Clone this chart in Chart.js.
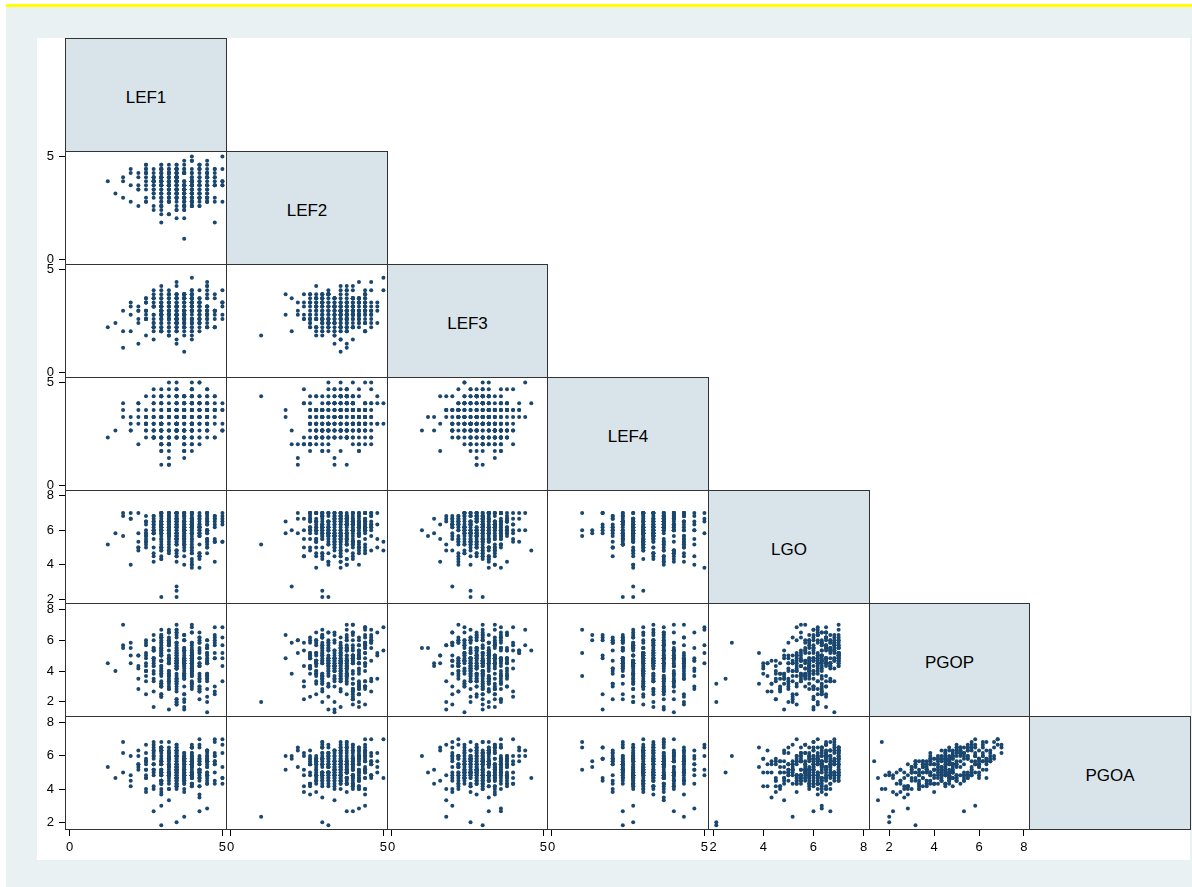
<!DOCTYPE html>
<html>
<head>
<meta charset="utf-8">
<title>Scatter plot matrix</title>
<script src="https://cdn.jsdelivr.net/npm/chart.js@4.4.1/dist/chart.umd.min.js"></script>
<style>
	body { margin: 0; width: 1192px; height: 887px; position: relative; overflow: hidden; background: #fff; font-family: "Liberation Sans", Arial, sans-serif; }
	#graph { position: absolute; left: 6px; top: 4px; width: 1186px; height: 880px; border-top: 3px solid #ffff00; background: #eaf1f3; }
	#plotregion { position: absolute; left: 37px; top: 38px; width: 1153px; height: 822px; background: #fff; }
	.cell { position: absolute; }
	.diag { position: absolute; box-sizing: border-box; padding-top: 5px; border: 1px solid #333; background: #d9e4ea; display: flex; align-items: center; justify-content: center; font-size: 17px; color: #000; }
</style>
</head>
<body>
<div id="graph"></div>
<div id="plotregion"></div>
<div id="matrix"></div>
<script>
const variables = ['LEF1', 'LEF2', 'LEF3', 'LEF4', 'LGO', 'PGOP', 'PGOA'];

const lef1 = [
	3.75, 1.25, 3.0, 3.5, 3.5, 3.5, 4.0, 3.25, 2.75, 4.5,
	2.5, 3.0, 3.25, 2.75, 3.5, 2.0, 3.0, 3.75, 2.5, 3.25,
	3.0, 2.25, 3.5, 2.75, 3.0, 4.0, 2.5, 3.25, 1.75, 3.5,
	3.25, 2.75, 3.0, 2.5, 3.75, 3.0, 2.25, 3.5, 3.0, 4.25,
	1.5, 3.0, 2.75, 3.5, 3.25, 2.5, 3.0, 2.0, 3.75, 3.25,
	3.5, 2.75, 3.0, 4.0, 2.5, 3.25, 1.75, 3.0, 3.5, 2.75,
	2.25, 3.25, 3.5, 3.0, 2.75, 4.5, 3.0, 2.5, 3.25, 3.75,
	3.0, 2.0, 3.25, 3.75, 3.0, 2.75, 3.5, 1.75, 4.0, 3.0,
	3.5, 3.75, 3.25, 4.0, 3.0, 3.5, 4.25, 2.75, 3.75, 3.5,
	4.0, 3.25, 3.5, 3.75, 4.5, 3.0, 3.5, 2.5, 3.75, 4.0,
	3.25, 3.75, 4.0, 3.5, 2.75, 4.25, 3.5, 3.0, 3.75, 4.75,
	3.75, 3.5, 3.0, 4.25, 3.5, 3.75, 2.5, 4.0, 3.25, 3.5,
	3.5, 4.0, 3.75, 3.25, 4.5, 3.0, 3.5, 3.75, 2.25, 4.0,
	4.25, 3.5, 3.0, 3.75, 3.5, 4.0, 3.25, 5.0, 3.5, 2.75,
	3.0, 3.75, 4.0, 3.5, 3.25, 3.75, 4.5, 3.5, 3.0, 4.25,
	3.75, 3.25, 3.5, 4.0, 2.5, 3.75, 3.5, 4.25, 3.0, 3.5,
	4.0, 4.25, 3.75, 4.5, 3.5, 4.0, 4.75, 3.25, 4.0, 5.0,
	4.5, 3.75, 4.0, 4.25, 3.5, 4.75, 4.0, 3.0, 4.25, 3.75,
	3.75, 4.5, 4.25, 4.0, 5.0, 3.5, 4.0, 4.25, 3.25, 4.5,
	4.25, 4.0, 3.5, 4.75, 4.0, 3.75, 4.5, 4.0, 2.75, 4.25,
	4.0, 3.75, 4.5, 4.25, 3.0, 4.0, 4.75, 3.5, 4.25, 4.0,
	4.5, 4.0, 3.75, 5.0, 4.25, 3.5, 4.0, 4.5, 3.75, 4.75,
	3.5, 4.25, 4.0, 4.5, 3.75, 4.75, 3.25, 4.0, 4.5, 4.0,
	4.75, 4.0, 4.5, 3.75, 4.25, 5.0, 4.0, 3.5, 4.25, 4.5,
	3.25, 4.0, 2.75, 3.5, 4.5, 3.0, 3.75, 4.25, 2.5, 3.5,
	4.0, 3.5, 3.0, 4.75, 3.25, 3.75, 2.0, 4.0, 3.5, 4.5,
	2.75, 3.75, 4.25, 3.0, 3.5, 5.0, 3.25, 3.75, 4.0, 3.0,
	3.5, 3.0, 4.5, 3.75, 2.25, 3.5, 4.0, 3.25, 4.75, 3.75,
	4.25, 3.25, 3.5, 2.5, 4.0, 3.75, 3.0, 4.5, 3.5, 2.75,
	3.0, 4.5, 3.75, 4.0, 3.25, 2.75, 4.25, 3.5, 3.0, 4.0,
	3.75, 2.5, 4.0, 3.25, 4.75, 3.5, 3.0, 4.0, 3.75, 3.25,
	3.5, 4.25, 3.0, 3.75, 3.5, 4.5, 2.75, 3.25, 4.0, 5.0,
	2.5, 3.5, 3.75, 4.25, 3.0, 4.0, 3.5, 2.25, 3.75, 4.25,
	4.5, 3.0, 3.25, 3.5, 4.0, 3.25, 4.75, 3.75, 3.0, 3.5,
	3.25, 3.75, 4.5, 2.75, 3.5, 4.0, 3.25, 4.25, 3.5, 3.75,
	4.0, 3.5, 2.75, 4.0, 3.75, 3.0, 4.5, 3.5, 4.25, 3.0,
];

const lef2 = [
	1.0, 3.8, 3.2, 3.0, 3.0, 2.0, 2.8, 4.2, 3.6, 3.4,
	3.8, 2.6, 3.4, 4.2, 2.4, 3.6, 3.0, 2.8, 4.0, 3.2,
	2.8, 4.0, 3.2, 3.6, 4.4, 2.6, 3.4, 2.2, 3.0, 3.8,
	3.6, 3.0, 4.2, 2.8, 3.2, 4.6, 3.4, 3.8, 2.4, 3.0,
	3.2, 3.8, 2.6, 4.0, 3.4, 3.0, 4.4, 2.8, 3.6, 2.2,
	4.0, 2.4, 3.6, 3.2, 2.8, 4.2, 3.8, 3.0, 2.6, 3.4,
	2.6, 3.4, 4.0, 2.8, 3.8, 3.2, 2.2, 4.4, 3.0, 3.6,
	3.4, 4.2, 2.8, 3.0, 2.6, 3.8, 3.2, 4.0, 3.6, 1.8,
	4.4, 3.0, 3.6, 2.6, 4.0, 3.2, 2.8, 3.8, 4.2, 3.4,
	3.0, 3.6, 4.4, 3.2, 2.8, 4.0, 3.4, 4.6, 2.4, 3.8,
	3.6, 2.8, 3.2, 4.2, 3.8, 2.6, 4.0, 3.4, 3.0, 4.4,
	2.0, 3.8, 4.2, 3.0, 3.4, 3.6, 4.6, 2.8, 3.2, 4.0,
	4.0, 3.2, 2.6, 3.8, 3.0, 4.4, 3.6, 3.4, 4.2, 2.8,
	3.2, 4.6, 3.8, 3.4, 2.4, 3.0, 4.2, 3.6, 4.0, 3.8,
	3.8, 3.4, 2.8, 4.4, 3.6, 3.2, 3.0, 4.2, 2.6, 4.0,
	3.4, 4.0, 3.6, 2.8, 4.2, 3.8, 3.2, 2.6, 4.4, 3.0,
	4.2, 3.6, 3.0, 4.0, 3.4, 4.8, 3.8, 3.2, 2.8, 4.4,
	3.0, 4.4, 3.8, 3.4, 4.2, 3.6, 2.6, 4.0, 3.8, 4.6,
	3.8, 3.2, 4.6, 3.6, 2.8, 4.0, 4.4, 3.4, 3.0, 4.2,
	4.4, 3.8, 3.4, 1.8, 4.0, 4.2, 3.6, 4.8, 3.2, 3.8,
	3.6, 4.2, 3.0, 4.4, 3.8, 3.4, 2.8, 4.0, 4.6, 3.2,
	4.0, 3.4, 4.2, 3.8, 3.0, 4.6, 4.0, 3.6, 2.6, 4.4,
	3.2, 4.6, 3.8, 4.2, 3.6, 3.0, 4.4, 3.8, 4.0, 5.0,
	4.2, 3.6, 4.8, 3.4, 4.0, 3.8, 3.2, 4.4, 3.6, 4.0,
	3.6, 2.8, 4.0, 3.4, 4.4, 3.8, 3.0, 4.2, 3.6, 3.2,
	3.0, 4.2, 3.6, 4.0, 3.2, 2.6, 4.4, 3.4, 3.8, 4.6,
	4.4, 3.4, 3.0, 3.8, 4.0, 3.6, 2.8, 4.2, 3.2, 3.6,
	3.8, 3.2, 4.2, 2.6, 3.6, 4.4, 3.0, 3.8, 4.0, 3.4,
	3.2, 4.0, 3.6, 4.2, 3.0, 3.4, 4.6, 2.8, 3.8, 4.0,
	4.0, 3.6, 2.4, 3.8, 4.2, 3.2, 3.6, 4.4, 3.0, 3.8,
	3.4, 4.4, 3.8, 3.0, 3.6, 4.0, 3.2, 3.6, 4.8, 2.8,
	3.6, 3.0, 4.0, 4.4, 2.8, 3.8, 3.4, 4.2, 3.6, 5.0,
	4.2, 3.8, 3.2, 3.6, 4.0, 2.6, 4.2, 3.4, 3.0, 4.4,
	3.0, 3.6, 4.4, 3.2, 3.8, 4.0, 3.6, 2.8, 4.2, 3.4,
	3.8, 4.2, 3.4, 4.0, 3.0, 3.6, 4.6, 3.2, 3.8, 2.6,
	3.4, 3.0, 3.8, 4.2, 3.6, 4.4, 2.8, 4.0, 3.2, 3.6,
];

const lef3 = [
	1.8, 2.2, 3.0, 2.6, 2.6, 2.0, 3.4, 2.8, 3.2, 2.4,
	3.0, 2.4, 1.8, 3.2, 2.6, 2.8, 3.6, 2.2, 2.8, 2.0,
	2.2, 3.2, 2.8, 1.6, 3.0, 2.4, 2.6, 3.4, 2.0, 2.8,
	2.8, 2.0, 3.4, 2.6, 2.2, 3.0, 2.4, 1.4, 3.2, 2.6,
	2.4, 3.0, 2.2, 3.6, 2.8, 1.8, 2.6, 3.2, 2.0, 3.0,
	3.2, 2.6, 2.0, 2.4, 3.4, 2.8, 1.2, 2.6, 3.0, 2.2,
	2.6, 1.8, 3.0, 3.2, 2.4, 2.2, 2.8, 3.6, 2.6, 1.0,
	2.0, 3.4, 2.6, 2.2, 2.8, 3.2, 2.4, 3.0, 1.6, 2.8,
	3.4, 2.6, 3.0, 2.2, 3.2, 2.8, 2.0, 3.6, 3.0, 2.4,
	2.8, 3.6, 2.4, 3.0, 2.2, 3.4, 3.2, 2.6, 3.8, 2.0,
	2.2, 3.0, 3.8, 2.8, 3.4, 2.6, 1.6, 3.2, 2.4, 3.6,
	3.6, 2.4, 2.8, 3.2, 2.0, 3.0, 3.4, 2.6, 3.8, 2.8,
	3.0, 2.2, 3.4, 2.6, 3.8, 3.2, 2.4, 2.8, 3.0, 1.8,
	2.6, 3.2, 2.0, 3.6, 2.8, 2.4, 3.0, 3.4, 2.2, 4.0,
	3.2, 2.8, 3.6, 2.0, 3.0, 3.8, 2.6, 2.2, 3.4, 3.0,
	2.4, 3.4, 2.6, 3.0, 3.6, 2.2, 3.2, 2.8, 2.0, 3.4,
	3.6, 2.8, 3.2, 4.0, 2.6, 3.4, 3.0, 2.4, 3.8, 3.2,
	3.0, 3.8, 2.6, 3.2, 3.6, 2.2, 3.4, 4.2, 2.8, 3.0,
	2.6, 3.2, 4.0, 3.0, 2.8, 3.6, 2.4, 3.4, 3.2, 4.4,
	3.4, 2.6, 3.0, 3.8, 3.2, 2.8, 4.2, 3.0, 3.6, 2.4,
	3.8, 3.0, 2.8, 3.4, 4.0, 3.2, 2.6, 3.6, 2.2, 3.4,
	2.8, 3.6, 3.4, 2.6, 3.0, 4.4, 3.2, 2.8, 3.8, 3.0,
	3.2, 2.4, 3.8, 3.6, 2.8, 3.0, 4.0, 3.4, 2.6, 4.6,
	3.0, 4.0, 3.2, 2.8, 3.6, 3.4, 2.6, 3.8, 3.2, 3.0,
	2.6, 3.2, 2.2, 3.4, 3.0, 2.8, 3.6, 2.4, 3.0, 3.8,
	3.4, 2.4, 3.0, 2.8, 3.8, 3.2, 2.0, 3.6, 2.6, 3.0,
	2.8, 3.0, 3.6, 2.2, 2.6, 3.4, 3.2, 2.8, 4.0, 2.4,
	3.2, 2.6, 2.8, 3.8, 3.0, 2.4, 3.4, 3.0, 2.2, 3.6,
	2.4, 3.6, 3.2, 2.6, 3.4, 3.0, 2.8, 4.2, 2.8, 3.2,
	3.0, 2.2, 3.4, 3.0, 2.8, 3.8, 2.6, 3.2, 3.6, 2.0,
	3.6, 3.0, 2.6, 3.4, 2.2, 2.8, 3.8, 3.0, 2.4, 3.2,
	2.2, 3.4, 3.0, 2.8, 3.6, 3.2, 2.4, 3.4, 3.0, 4.0,
	3.4, 2.8, 2.4, 3.2, 3.0, 3.6, 2.6, 1.4, 3.8, 3.0,
	2.8, 3.2, 3.8, 2.6, 3.4, 2.2, 3.0, 3.6, 2.8, 3.2,
	3.0, 2.6, 3.2, 3.6, 2.4, 3.4, 2.8, 3.0, 4.2, 2.6,
	3.2, 3.8, 2.8, 3.0, 2.6, 3.2, 3.6, 2.4, 3.4, 2.8,
];

const lef4 = [
	4.33, 2.33, 2.33, 2.67, 3.0, 2.67, 3.67, 2.0, 3.33, 4.0,
	3.0, 2.0, 3.67, 2.33, 4.0, 2.67, 1.67, 3.33, 2.67, 3.0,
	2.33, 3.67, 2.67, 4.33, 2.0, 3.0, 3.33, 1.33, 3.67, 2.67,
	3.33, 2.67, 1.67, 3.0, 3.67, 2.33, 4.0, 2.67, 2.0, 3.33,
	2.67, 4.0, 3.33, 2.33, 1.0, 3.67, 2.67, 3.0, 4.33, 2.0,
	3.67, 2.33, 3.0, 4.0, 2.67, 1.67, 3.33, 2.33, 3.0, 4.67,
	2.0, 3.33, 4.33, 2.67, 3.0, 3.67, 1.0, 3.33, 2.33, 2.67,
	3.0, 2.67, 2.0, 3.67, 4.33, 2.33, 3.0, 4.0, 1.67, 3.33,
	4.0, 3.0, 2.67, 3.33, 2.0, 4.33, 3.67, 2.33, 3.0, 3.67,
	2.67, 3.67, 3.33, 1.67, 3.0, 2.67, 4.67, 3.33, 4.0, 2.33,
	3.33, 2.33, 4.0, 3.0, 3.67, 2.0, 3.0, 4.33, 2.67, 3.67,
	2.0, 4.33, 3.0, 3.67, 2.67, 3.33, 2.33, 3.0, 4.67, 3.0,
	3.67, 3.0, 2.33, 4.0, 3.33, 2.67, 4.33, 1.33, 3.0, 3.67,
	3.0, 2.67, 3.67, 2.33, 4.67, 3.33, 2.0, 3.67, 3.33, 2.67,
	4.33, 3.33, 2.67, 3.0, 2.33, 4.0, 3.67, 2.67, 3.0, 5.0,
	2.33, 3.67, 3.0, 4.33, 3.0, 2.33, 3.33, 4.0, 2.67, 3.33,
	3.67, 4.33, 3.33, 2.67, 4.0, 3.0, 3.67, 5.0, 2.33, 4.0,
	3.0, 3.67, 4.67, 3.33, 2.67, 4.0, 3.0, 3.67, 4.33, 2.0,
	4.0, 2.67, 3.33, 4.33, 3.67, 3.0, 5.0, 2.33, 3.67, 3.33,
	3.33, 4.67, 2.67, 3.67, 3.0, 4.33, 3.33, 4.0, 2.67, 3.67,
	2.67, 3.33, 4.0, 3.0, 4.67, 3.67, 2.33, 3.33, 4.0, 3.0,
	4.33, 3.0, 3.67, 2.67, 3.33, 5.0, 4.0, 3.0, 3.67, 2.33,
	3.67, 4.0, 3.0, 4.67, 2.67, 3.33, 3.67, 4.33, 3.0, 4.0,
	3.0, 3.67, 4.33, 3.33, 4.0, 2.67, 3.0, 3.67, 5.0, 3.33,
	2.67, 3.33, 4.0, 2.33, 3.67, 3.0, 1.67, 3.33, 4.33, 3.0,
	3.67, 2.67, 3.0, 4.33, 2.33, 3.67, 3.33, 2.67, 3.0, 4.67,
	3.0, 4.0, 2.33, 3.33, 3.0, 2.67, 4.33, 3.67, 2.0, 3.33,
	2.33, 3.0, 3.67, 2.67, 4.0, 3.33, 2.67, 1.0, 3.67, 4.0,
	4.0, 2.33, 3.33, 3.0, 2.67, 4.33, 3.0, 3.67, 2.33, 3.0,
	3.33, 3.67, 2.0, 4.0, 3.33, 2.33, 3.67, 3.0, 4.33, 2.67,
	2.67, 3.0, 4.33, 2.0, 3.67, 3.33, 2.67, 4.0, 3.0, 3.67,
	3.67, 2.67, 3.0, 3.33, 2.33, 4.0, 3.33, 2.67, 4.67, 3.0,
	3.0, 4.33, 2.67, 3.67, 4.0, 2.0, 3.0, 3.33, 2.67, 4.0,
	2.33, 3.33, 3.67, 3.0, 2.67, 3.67, 4.33, 2.33, 3.33, 3.0,
	3.67, 2.67, 3.33, 4.0, 3.0, 2.33, 3.67, 3.0, 4.0, 1.67,
	3.0, 3.67, 2.33, 3.33, 4.33, 3.0, 2.67, 3.67, 3.33, 4.0,
];

const lgo = [
	5.17, 5.17, 2.13, 2.13, 2.5, 2.75, 6.33, 5.67, 6.0, 6.83,
	5.5, 6.17, 4.83, 5.83, 4.5, 6.67, 7.0, 6.0, 5.33, 6.5,
	6.0, 5.0, 5.67, 4.17, 6.33, 7.0, 6.5, 5.83, 6.83, 5.5,
	4.67, 5.83, 6.17, 5.33, 4.0, 6.17, 7.0, 6.67, 5.0, 6.33,
	5.83, 4.33, 6.5, 5.17, 5.67, 6.83, 6.0, 7.0, 5.5, 6.67,
	6.33, 5.5, 4.83, 6.0, 5.0, 7.0, 5.67, 6.5, 6.17, 4.5,
	5.0, 6.67, 5.33, 4.5, 6.17, 6.33, 7.0, 5.83, 6.83, 6.0,
	5.67, 4.0, 6.0, 5.5, 6.5, 6.67, 5.17, 7.0, 6.33, 5.83,
	4.83, 6.33, 5.83, 6.67, 5.33, 7.0, 6.17, 6.5, 5.0, 6.83,
	6.17, 5.17, 4.67, 6.0, 5.5, 6.5, 7.0, 5.67, 6.67, 6.33,
	5.33, 6.5, 4.17, 5.83, 6.33, 6.83, 5.5, 7.0, 6.0, 6.17,
	6.0, 5.67, 5.0, 4.33, 6.67, 7.0, 6.33, 5.83, 6.5, 5.17,
	4.5, 6.17, 5.5, 6.83, 5.83, 6.67, 7.0, 6.0, 5.33, 6.5,
	5.83, 4.83, 6.33, 5.17, 6.0, 7.0, 6.17, 6.83, 5.67, 6.33,
	6.5, 5.33, 3.83, 6.17, 5.67, 6.0, 7.0, 6.5, 4.83, 6.67,
	5.17, 6.0, 5.83, 4.67, 6.5, 6.83, 5.5, 7.0, 6.33, 6.17,
	6.33, 4.5, 5.67, 6.0, 5.33, 7.0, 6.67, 5.83, 6.5, 7.0,
	5.5, 6.5, 4.0, 5.83, 6.17, 6.33, 7.0, 6.0, 5.17, 6.83,
	4.83, 5.83, 6.33, 5.0, 6.67, 7.0, 6.5, 5.67, 6.17, 6.0,
	6.17, 5.17, 5.5, 6.5, 4.33, 6.83, 7.0, 6.33, 5.83, 6.67,
	5.67, 6.33, 4.67, 6.0, 5.5, 6.5, 5.33, 7.0, 6.83, 6.17,
	6.0, 5.0, 6.5, 5.33, 4.5, 7.0, 6.17, 6.67, 6.0, 5.5,
	4.17, 6.17, 5.83, 6.33, 5.67, 6.83, 7.0, 5.5, 6.5, 4.83,
	5.33, 6.67, 5.0, 5.83, 6.0, 6.33, 7.0, 6.17, 3.83, 6.5,
	5.5, 6.0, 4.67, 6.33, 5.17, 6.83, 7.0, 6.17, 5.67, 6.5,
	6.17, 4.83, 5.83, 5.33, 6.5, 7.0, 6.67, 5.5, 6.33, 6.0,
	5.0, 6.33, 5.67, 4.33, 6.0, 6.5, 7.0, 6.83, 5.83, 6.17,
	5.83, 5.17, 6.67, 6.0, 4.83, 7.0, 6.33, 6.0, 6.67, 5.67,
	4.67, 6.5, 5.5, 5.83, 6.17, 6.17, 7.0, 5.33, 6.5, 6.83,
	6.33, 5.33, 4.5, 6.67, 5.67, 6.83, 5.83, 7.0, 6.0, 6.33,
	5.67, 6.0, 6.33, 5.0, 4.17, 6.5, 7.0, 6.67, 5.5, 6.17,
	6.5, 4.67, 5.83, 6.17, 5.5, 7.0, 6.0, 6.33, 6.83, 5.33,
	5.17, 6.83, 5.33, 4.5, 6.33, 6.67, 7.0, 5.83, 6.17, 6.5,
	6.0, 5.5, 6.5, 5.67, 4.0, 6.33, 6.83, 7.0, 5.0, 6.67,
	4.83, 6.17, 5.0, 6.0, 5.83, 7.0, 6.5, 6.17, 6.67, 5.83,
	5.33, 6.67, 5.83, 4.67, 6.5, 6.0, 7.0, 6.33, 5.67, 6.83,
];

const pgop = [
	2.0, 4.5, 3.17, 2.0, 3.5, 5.83, 4.67, 5.33, 1.67, 1.33,
	3.67, 4.17, 1.5, 4.83, 3.33, 5.5, 6.17, 4.67, 5.0, 6.5,
	4.33, 2.83, 3.83, 4.5, 3.0, 5.17, 4.83, 6.0, 5.67, 4.33,
	3.5, 4.67, 2.5, 4.0, 4.33, 6.33, 5.0, 4.5, 5.83, 5.33,
	4.0, 3.17, 4.83, 2.17, 3.67, 5.67, 6.67, 5.0, 4.67, 6.0,
	2.67, 4.33, 3.83, 3.0, 4.5, 4.83, 5.5, 6.17, 5.17, 4.0,
	4.17, 3.33, 1.83, 4.67, 3.83, 6.0, 5.17, 4.33, 5.83, 5.5,
	3.0, 4.5, 4.0, 3.5, 2.33, 5.33, 4.67, 7.0, 5.0, 6.33,
	4.83, 3.67, 2.83, 4.33, 3.17, 5.0, 6.5, 5.5, 4.5, 5.83,
	3.33, 4.0, 4.5, 1.5, 3.83, 5.67, 4.83, 6.0, 5.33, 4.67,
	4.5, 2.5, 3.67, 4.17, 3.5, 6.17, 5.0, 4.33, 5.5, 6.83,
	3.83, 4.67, 3.0, 2.67, 4.33, 4.5, 5.83, 5.17, 6.5, 5.0,
	2.17, 4.0, 4.83, 3.33, 3.67, 5.5, 4.67, 6.33, 5.0, 5.67,
	4.33, 3.5, 2.5, 4.5, 3.0, 5.17, 6.0, 4.83, 7.0, 5.33,
	3.67, 4.17, 3.17, 1.83, 4.67, 4.67, 5.5, 6.17, 5.0, 4.5,
	4.0, 2.83, 4.5, 3.83, 3.33, 6.0, 5.33, 4.33, 5.83, 6.67,
	3.17, 4.33, 3.67, 2.33, 4.83, 5.0, 6.33, 5.67, 4.5, 5.17,
	4.67, 3.0, 4.17, 3.5, 2.0, 5.83, 4.83, 5.33, 6.17, 4.67,
	3.83, 4.5, 2.67, 4.0, 3.33, 5.5, 6.83, 4.5, 5.0, 5.67,
	2.83, 3.67, 4.33, 4.83, 3.17, 4.83, 5.17, 6.5, 5.5, 6.0,
	4.17, 2.5, 3.83, 3.0, 4.67, 5.33, 6.0, 4.67, 5.83, 4.33,
	3.5, 4.83, 1.67, 4.33, 3.83, 6.67, 5.0, 5.5, 4.83, 6.17,
	4.5, 3.33, 4.0, 2.83, 3.67, 5.17, 5.67, 7.0, 4.5, 5.33,
	3.0, 4.17, 3.5, 4.67, 2.17, 5.67, 4.83, 6.33, 5.17, 6.0,
	3.83, 4.67, 2.67, 4.17, 3.33, 5.5, 6.33, 4.83, 5.17, 4.5,
	4.5, 3.17, 4.0, 2.5, 4.83, 5.0, 5.83, 6.5, 4.67, 5.5,
	3.33, 4.33, 3.67, 4.67, 2.83, 6.17, 4.5, 5.33, 5.83, 5.0,
	4.17, 2.33, 4.5, 3.83, 3.5, 5.67, 5.0, 6.67, 4.83, 5.33,
	3.0, 4.83, 3.33, 4.0, 4.5, 4.67, 6.0, 5.17, 5.5, 6.33,
	4.67, 3.67, 2.17, 4.33, 3.83, 5.33, 4.83, 5.83, 6.17, 5.0,
	3.5, 4.0, 4.83, 3.17, 2.67, 6.5, 5.5, 4.5, 5.17, 5.83,
	4.33, 2.83, 3.83, 4.5, 3.67, 5.0, 6.0, 5.67, 4.67, 6.83,
	2.5, 4.17, 4.67, 3.5, 4.0, 5.83, 5.17, 4.33, 6.33, 5.5,
	4.83, 3.33, 3.0, 4.17, 3.83, 4.5, 5.67, 6.0, 5.0, 5.17,
	3.67, 4.5, 2.0, 4.83, 3.17, 5.5, 6.17, 4.83, 5.33, 6.0,
	4.0, 3.5, 4.33, 2.83, 4.67, 5.17, 4.67, 6.5, 5.83, 5.33,
];

const pgoa = [
	2.33, 5.33, 1.83, 2.0, 5.0, 6.0, 4.67, 6.17, 6.83, 5.67,
	5.67, 4.33, 3.33, 6.0, 4.17, 4.83, 6.5, 5.83, 4.67, 6.17,
	4.5, 5.5, 5.0, 6.33, 4.0, 6.0, 4.67, 5.33, 6.83, 5.17,
	5.33, 4.83, 4.5, 3.83, 5.83, 5.5, 6.33, 4.33, 6.17, 5.0,
	4.67, 5.67, 4.17, 4.83, 5.17, 6.67, 5.83, 4.5, 5.67, 6.33,
	4.17, 6.0, 4.5, 5.33, 4.83, 5.83, 5.0, 6.83, 4.33, 5.5,
	5.5, 4.0, 4.83, 4.5, 6.17, 5.33, 6.5, 5.67, 5.0, 6.0,
	5.0, 4.17, 5.83, 4.67, 3.67, 2.67, 5.5, 6.17, 6.5, 5.17,
	6.17, 5.33, 4.0, 4.83, 5.67, 4.5, 5.83, 6.67, 5.17, 5.5,
	4.33, 5.5, 5.0, 4.67, 6.0, 5.17, 6.33, 5.67, 4.83, 6.5,
	4.83, 5.17, 4.17, 6.0, 5.5, 5.67, 4.5, 6.33, 5.83, 7.0,
	5.83, 4.67, 5.0, 3.5, 5.33, 6.17, 5.5, 4.83, 6.0, 6.67,
	4.67, 4.33, 5.83, 5.0, 4.5, 6.33, 5.17, 5.67, 6.0, 4.83,
	5.0, 5.67, 3.83, 4.33, 5.17, 6.5, 5.83, 4.67, 6.67, 5.5,
	4.5, 5.83, 5.33, 4.0, 5.0, 5.67, 4.83, 6.0, 6.33, 5.17,
	5.17, 4.83, 4.33, 5.67, 4.0, 5.5, 6.17, 5.0, 3.0, 6.5,
	5.5, 4.5, 5.0, 4.33, 6.0, 5.33, 6.83, 4.83, 5.67, 6.17,
	4.67, 5.33, 5.83, 4.17, 5.0, 6.0, 5.5, 6.5, 5.17, 4.83,
	5.0, 6.17, 4.67, 5.5, 4.33, 5.83, 6.67, 5.17, 4.83, 6.33,
	3.67, 5.17, 4.83, 6.0, 5.5, 5.0, 6.33, 5.67, 6.5, 4.67,
	4.83, 4.5, 5.67, 5.17, 4.33, 6.17, 5.5, 5.83, 7.0, 5.0,
	5.33, 5.0, 4.0, 4.67, 5.83, 6.0, 4.83, 6.33, 5.5, 5.67,
	5.5, 4.83, 4.33, 2.83, 5.17, 6.17, 5.0, 6.5, 5.83, 4.67,
	4.5, 5.67, 5.0, 4.83, 2.67, 5.33, 6.0, 4.67, 6.5, 5.83,
	4.83, 5.5, 4.0, 5.17, 5.67, 6.5, 5.83, 4.67, 6.17, 5.33,
	5.83, 4.67, 5.17, 4.33, 5.0, 5.5, 6.0, 5.67, 6.33, 4.83,
	5.17, 4.5, 5.5, 5.0, 4.17, 6.67, 5.83, 4.83, 6.0, 5.5,
	4.67, 5.0, 6.0, 4.33, 5.33, 5.17, 6.17, 6.83, 5.5, 4.5,
	5.0, 5.33, 4.5, 5.83, 4.83, 6.0, 5.5, 5.67, 4.67, 6.33,
	5.67, 4.33, 3.83, 5.0, 5.5, 5.83, 5.17, 6.5, 6.0, 4.67,
	4.67, 5.17, 5.5, 4.5, 5.0, 6.33, 4.83, 5.83, 6.17, 5.67,
	5.33, 4.17, 4.83, 6.0, 5.17, 5.67, 5.0, 6.5, 5.5, 7.0,
	5.17, 5.0, 4.5, 5.67, 4.33, 5.5, 6.33, 5.17, 5.83, 6.0,
	5.5, 4.83, 4.67, 5.33, 5.0, 6.0, 5.67, 4.83, 6.5, 5.33,
	4.33, 5.67, 4.83, 5.17, 5.0, 4.67, 6.17, 5.5, 6.0, 5.83,
	4.83, 5.5, 5.17, 4.17, 5.83, 6.33, 5.0, 5.67, 6.67, 4.5,
];

const series = [lef1, lef2, lef3, lef4, lgo, pgop, pgoa];

// axis labels for each variable
const lefTicks = [0, 5];
const goTicks = [2, 4, 6, 8];
const tickValues = [lefTicks, lefTicks, lefTicks, lefTicks, goTicks, goTicks, goTicks];

// axis ranges when a variable is on x (column) or y (row)
const xRanges = [[-0.15, 5.15], [-0.15, 5.15], [-0.15, 5.15], [-0.15, 5.15], [1.8, 8.25], [1.1, 8.27], null];
const yRanges = [null, [-0.27, 5.27], [-0.27, 5.27], [-0.27, 5.27], [1.73, 8.33], [1.02, 8.41], [1.54, 8.4]];

// cell grid edges
const colEdges = [65, 226, 387, 547, 708, 869, 1029, 1190];
const rowEdges = [38, 151, 264, 377, 490, 603, 716, 829];

const pointColor = '#1a476f';
const frameColor = '#333';

Chart.defaults.font.family = '"Liberation Sans", Arial, Helvetica, sans-serif';
Chart.defaults.font.size = 13;
Chart.defaults.color = '#000';

const cellFrame = {
	id: 'cellFrame',
	afterDraw(chart) {
		const { ctx, chartArea: area } = chart;
		ctx.save();
		ctx.strokeStyle = frameColor;
		ctx.lineWidth = 1;
		ctx.strokeRect(area.left + 0.5, area.top + 0.5, area.right - area.left - 1, area.bottom - area.top - 1);
		ctx.restore();
	},
};

function fixedAxis(size, horizontal, values) {
	return {
		afterBuildTicks(scale) {
			scale.ticks = values.map((value) => ({ value }));
		},
		afterFit(scale) {
			if (horizontal) {
				scale.height = size;
			} else {
				scale.width = size;
			}
			scale.paddingLeft = 0;
			scale.paddingRight = 0;
			scale.paddingTop = 0;
			scale.paddingBottom = 0;
		},
	};
}

function makeDiagonal(index) {
	const box = document.createElement('div');
	box.className = 'diag';
	box.style.left = colEdges[index] + 'px';
	box.style.top = rowEdges[index] + 'px';
	box.style.width = (colEdges[index + 1] - colEdges[index] + 1) + 'px';
	box.style.height = (rowEdges[index + 1] - rowEdges[index] + 1) + 'px';
	box.textContent = variables[index];
	document.getElementById('matrix').appendChild(box);
}

function makeScatter(row, col) {
	const showY = col === 0;
	const showX = row === variables.length - 1;
	const width = colEdges[col + 1] - colEdges[col] + 1;
	const height = rowEdges[row + 1] - rowEdges[row] + 1;
	const axisWidth = showY ? 34 : 0;
	const axisHeight = showX ? 34 : 0;
	const padTop = showY ? 12 : 0;
	const padBottom = showY && !showX ? 12 : 0;

	const canvas = document.createElement('canvas');
	canvas.className = 'cell';
	canvas.width = width + axisWidth;
	canvas.height = height + padTop + padBottom + axisHeight;
	canvas.style.left = (colEdges[col] - axisWidth) + 'px';
	canvas.style.top = (rowEdges[row] - padTop) + 'px';
	document.getElementById('matrix').appendChild(canvas);

	const xs = series[col];
	const ys = series[row];
	const points = xs.map((x, i) => ({ x, y: ys[i] }));

	const tickGrid = {
		display: true,
		drawOnChartArea: false,
		drawTicks: true,
		tickLength: 6,
		color: '#000',
		lineWidth: 1,
	};

	new Chart(canvas, {
		type: 'scatter',
		data: {
			datasets: [{
				data: points,
				pointRadius: 2,
				pointBorderWidth: 0,
				pointBackgroundColor: pointColor,
				pointHoverRadius: 0,
			}],
		},
		options: {
			responsive: false,
			animation: false,
			devicePixelRatio: 1,
			events: [],
			layout: { autoPadding: false, padding: { top: padTop, bottom: padBottom, left: 0, right: 0 } },
			plugins: {
				legend: { display: false },
				tooltip: { enabled: false },
			},
			scales: {
				x: {
					type: 'linear',
					min: xRanges[col][0],
					max: xRanges[col][1],
					display: showX,
					grid: tickGrid,
					border: { display: false },
					ticks: { padding: 4, maxRotation: 0, autoSkip: false },
					...fixedAxis(axisHeight, true, tickValues[col]),
				},
				y: {
					type: 'linear',
					min: yRanges[row][0],
					max: yRanges[row][1],
					display: showY,
					grid: tickGrid,
					border: { display: false },
					ticks: { padding: 5, autoSkip: false },
					...fixedAxis(axisWidth, false, tickValues[row]),
				},
			},
		},
		plugins: [cellFrame],
	});
}

function init() {
	for (let row = 0; row < variables.length; row++) {
		for (let col = 0; col <= row; col++) {
			if (row === col) {
				makeDiagonal(row);
			} else {
				makeScatter(row, col);
			}
		}
	}
}

init();
</script>
</body>
</html>
